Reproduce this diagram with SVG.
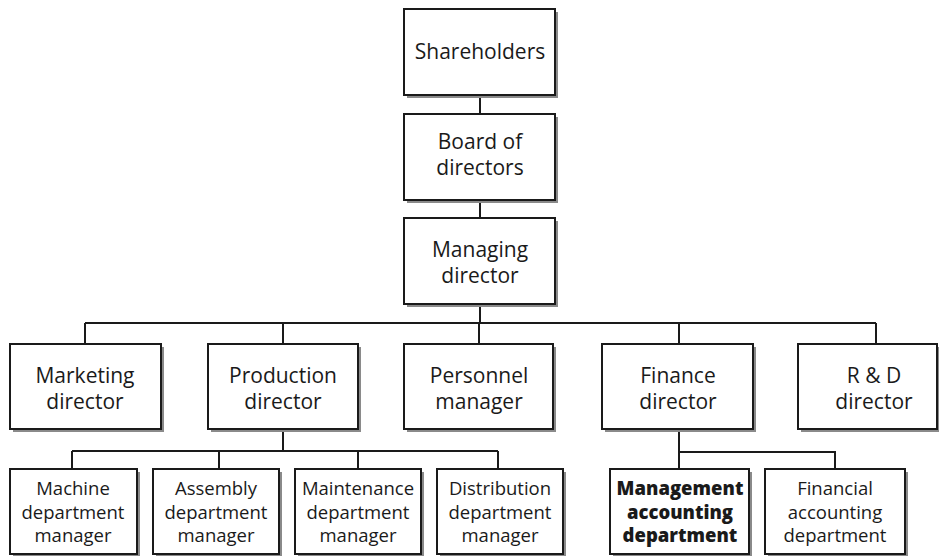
<svg xmlns="http://www.w3.org/2000/svg" width="939" height="556" viewBox="0 0 939 556">
<style>
.box{fill:#fff;stroke:#1a1a1a;stroke-width:2}
.sh{fill:#8a8a8a}
.t{font-family:"Open Sans","Noto Sans",sans-serif;font-size:21px;fill:#1a1a1a;text-anchor:middle}
.s{font-family:"Open Sans","Noto Sans",sans-serif;font-size:18.5px;fill:#1a1a1a;text-anchor:middle}
.b{font-weight:800}
.c{stroke:#1a1a1a;stroke-width:2;fill:none}
</style>
<rect width="939" height="556" fill="#fff"/>
<g id="connectors">
<path class="c" d="M480 95V114M480 200V218M480 304V323M85 323H876M85 323V344M283 323V344M479 323V344M679 323V344M876 323V344"/>
<path class="c" d="M283 429V451M72 451H498M72 451V469M219 451V469M358 451V469M498 451V469"/>
<path class="c" d="M679 429V469M679 452H835V469"/>
</g>
<g id="shareholders"><rect class="sh" x="407" y="12" width="151" height="86"/><rect class="box" x="404" y="9" width="151" height="86"/><text class="t" x="480" y="59">Shareholders</text></g>
<g id="board"><rect class="sh" x="407" y="117" width="151" height="86"/><rect class="box" x="404" y="114" width="151" height="86"/><text class="t" x="480" y="149">Board of</text><text class="t" x="480" y="175">directors</text></g>
<g id="managing"><rect class="sh" x="407" y="221" width="151" height="86"/><rect class="box" x="404" y="218" width="151" height="86"/><text class="t" x="480" y="257">Managing</text><text class="t" x="480" y="283">director</text></g>
<g id="marketing"><rect class="sh" x="13" y="347" width="151" height="85"/><rect class="box" x="10" y="344" width="151" height="85"/><text class="t" x="85" y="383">Marketing</text><text class="t" x="85" y="409">director</text></g>
<g id="production"><rect class="sh" x="211" y="347" width="150" height="85"/><rect class="box" x="208" y="344" width="150" height="85"/><text class="t" x="283" y="383">Production</text><text class="t" x="283" y="409">director</text></g>
<g id="personnel"><rect class="sh" x="407" y="347" width="149" height="85"/><rect class="box" x="404" y="344" width="149" height="85"/><text class="t" x="479" y="383">Personnel</text><text class="t" x="479" y="409">manager</text></g>
<g id="finance"><rect class="sh" x="605" y="347" width="151" height="85"/><rect class="box" x="602" y="344" width="151" height="85"/><text class="t" x="678" y="383">Finance</text><text class="t" x="678" y="409">director</text></g>
<g id="rd"><rect class="sh" x="801" y="347" width="140" height="85"/><rect class="box" x="798" y="344" width="139" height="85"/><text class="t" x="874" y="383">R &amp; D</text><text class="t" x="874" y="409">director</text></g>
<g id="machine"><rect class="sh" x="13" y="472" width="127" height="85"/><rect class="box" x="10" y="469" width="127" height="85"/><text class="s" x="73" y="495">Machine</text><text class="s" x="73" y="519">department</text><text class="s" x="73" y="542">manager</text></g>
<g id="assembly"><rect class="sh" x="156" y="472" width="126" height="85"/><rect class="box" x="153" y="469" width="126" height="85"/><text class="s" x="216" y="495">Assembly</text><text class="s" x="216" y="519">department</text><text class="s" x="216" y="542">manager</text></g>
<g id="maintenance"><rect class="sh" x="298" y="472" width="126" height="85"/><rect class="box" x="295" y="469" width="126" height="85"/><text class="s" x="358" y="495">Maintenance</text><text class="s" x="358" y="519">department</text><text class="s" x="358" y="542">manager</text></g>
<g id="distribution"><rect class="sh" x="440" y="472" width="126" height="85"/><rect class="box" x="437" y="469" width="126" height="85"/><text class="s" x="500" y="495">Distribution</text><text class="s" x="500" y="519">department</text><text class="s" x="500" y="542">manager</text></g>
<g id="management"><rect class="sh" x="613" y="472" width="139" height="85"/><rect class="box" x="610" y="469" width="139" height="85"/><text class="s b" x="680" y="495">Management</text><text class="s b" x="680" y="519">accounting</text><text class="s b" x="680" y="542">department</text></g>
<g id="financial"><rect class="sh" x="768" y="472" width="140" height="85"/><rect class="box" x="765" y="469" width="140" height="85"/><text class="s" x="835" y="495">Financial</text><text class="s" x="835" y="519">accounting</text><text class="s" x="835" y="542">department</text></g>
</svg>
